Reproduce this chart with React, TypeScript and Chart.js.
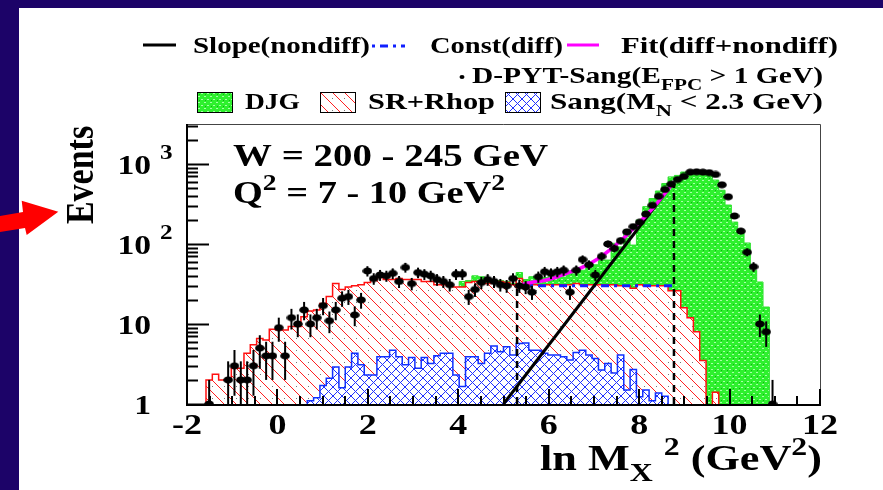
import { useEffect, useRef } from "react";
import { Chart, registerables } from "chart.js";
Chart.register(...registerables);

// ---- binning of ln Mx^2 ----
const BIN_LO = -2;
const BIN_W = 0.14;

// data: D-PYT-Sang (E_FPC > 1 GeV), events per bin
const dataCounts = [
  0, 0, 0, 1, 0, 0, 2, 3, 2, 2,
  3, 5, 4, 4, 9, 4, 12, 10, 15, 10,
  12, 17, 11, 15, 21, 22, 13, 20, 46, 37,
  41, 40, 43, 34, 51, 32, 44, 42, 40, 36,
  34, 31, 42, 42, 22, 27, 33, 36, 34, 31,
  30, 37, 30, 29, 25, 39, 45, 43, 45, 47,
  25, 47, 64, 55, 41, 70, 100, 88, 110, 142,
  165, 187, 237, 305, 395, 480, 560, 640, 700, 790,
  800, 790, 780, 740, 550, 389, 224, 145, 79, 52,
  10, 8, 1, 0, 0, 0, 0, 0, 0, 0,
];

// DJG (stack total, visible above SR+Rhop)
const djgTotal = [
  0, 0, 0, 0, 0, 0, 0, 0, 0, 0,
  0, 0, 0, 0, 0, 0, 0, 0, 0, 0,
  0, 0, 0, 0, 0, 0, 0, 0, 0, 0,
  0, 0, 0, 0, 0, 0, 0, 0, 0, 0,
  0, 0, 0, 0, 34, 35, 40, 39, 35, 35,
  35, 34, 32, 44, 36, 39, 38, 38, 39, 40,
  42, 46, 47, 47, 55, 55, 63, 63, 102, 92,
  150, 97, 200, 293, 370, 460, 570, 690, 720, 794,
  800, 800, 794, 780, 630, 470, 307, 188, 137, 103,
  47, 33.5, 16.3, 0, 0, 0, 0, 0, 0, 0,
];

// SR+Rhop
const srRhop = [
  5.6, 0, 0, 0, 2.0, 2.35, 2.0, 2.0, 2.8, 2.8,
  4.3, 5.5, 6.6, 6.3, 8.6, 8.4, 8.4, 9.3, 9.3, 12.3,
  14.5, 15, 18, 22, 32, 27, 29, 30, 31, 33,
  35, 38, 36, 36, 37, 36, 36, 36, 34, 34,
  31, 31, 30, 29, 29, 33, 34, 32, 32, 33,
  34, 33, 31, 37, 31, 31, 31, 31, 31, 31,
  31, 31, 32, 31, 31, 31, 31, 31, 31, 30,
  30, 28, 31, 30, 30, 30, 30, 26, 26, 16,
  12, 8, 3.5, 0, 1.4, 0, 0, 0, 0, 0,
  0, 0, 0, 0, 0, 0, 0, 0, 0, 0,
];

// Sang (M_N < 2.3 GeV)
const sang = [
  0, 0, 0, 0, 0, 0, 0, 0, 0, 0,
  0, 0, 0, 0, 0, 0, 0, 0, 0, 0,
  1.1, 1.2, 1.7, 2.1, 2.9, 1.6, 2.9, 4.3, 3.1, 2.3,
  2.3, 3.9, 3.9, 4.7, 3.9, 3.1, 3.8, 2.8, 3.8, 3.2,
  4.0, 4.3, 4.3, 2.3, 1.65, 3.9, 3.9, 3.2, 4.3, 5.3,
  4.5, 5.2, 4.1, 5.7, 5.8, 4.7, 4.7, 4.3, 4.1, 4.1,
  3.9, 3.55, 4.4, 4.7, 4.1, 3.7, 2.66, 3.2, 2.44, 4.1,
  1.5, 2.7, 1.23, 1.5, 1.1, 1.37, 1.25, 0, 0, 0,
  0, 0, 0, 0, 0, 0, 0, 0, 0, 0,
  0, 0, 0, 0, 0, 0, 0, 0, 0, 0,
];

// Slope (nondiff): straight line in log scale
const slopeX = [5.0, 8.77];
const slopeY = [1, 600];
// Const (diff)
const constX = [5.3, 8.77];
const constY = [30, 30];
// Fit (diff+nondiff)
const fitX = [5.3, 5.6, 5.9, 6.2, 6.5, 6.8, 7.1, 7.4, 7.7, 8.0, 8.3, 8.6, 8.77];
const fitY = [30, 33, 35, 39, 45, 53, 66, 89, 125, 185, 280, 450, 600];
// fit range markers (dashed verticals)
const cutX = [5.3, 8.77];
const cutTop = [30, 600];

const xTickValues = [-2, 0, 2, 4, 6, 8, 10, 12];
const xTickLabels = ["-2", "0", "2", "4", "6", "8", "10", "12"];
const yTickValues = [1, 10, 100, 1000];
const yTickLabels = [["1", ""], ["10", ""], ["10", "2"], ["10", "3"]];

const X_MIN = -2, X_MAX = 12, Y_MIN = 1, Y_MAX = 3162;

const FONT = '"Liberation Serif", "DejaVu Serif", serif';
const SX = 1.2;

type Part = { t: string; sub?: boolean; sup?: boolean };

function partSize(p: Part, size: number) {
  return p.sub || p.sup ? size * 0.72 : size;
}

function richWidth(ctx: CanvasRenderingContext2D, parts: Part[], size: number) {
  ctx.save();
  let w = 0;
  for (const p of parts) {
    ctx.font = `bold ${partSize(p, size)}px ${FONT}`;
    w += ctx.measureText(p.t).width;
  }
  ctx.restore();
  return w;
}

// draws text; if targetW is given, the horizontal stretch is chosen to span it
function drawRich(ctx: CanvasRenderingContext2D, x: number, y: number, parts: Part[], size: number, targetW?: number) {
  const sx = targetW ? targetW / richWidth(ctx, parts, size) : SX;
  ctx.save();
  ctx.translate(x, y);
  ctx.scale(sx, 1);
  ctx.fillStyle = "#000";
  ctx.textBaseline = "alphabetic";
  ctx.textAlign = "left";
  let cx = 0;
  for (const p of parts) {
    ctx.font = `bold ${partSize(p, size)}px ${FONT}`;
    const dy = p.sub ? size * 0.3 : p.sup ? -size * 0.42 : 0;
    ctx.fillText(p.t, cx, dy);
    cx += ctx.measureText(p.t).width;
  }
  ctx.restore();
}

function histPoints(vals: number[]) {
  const pts = vals.map((v, k) => ({ x: BIN_LO + k * BIN_W, y: v > 0 ? v : 1e-3 }));
  pts.push({ x: BIN_LO + vals.length * BIN_W, y: vals[vals.length - 1] > 0 ? vals[vals.length - 1] : 1e-3 });
  return pts;
}

function makeTile(w: number, h: number, draw: (g: CanvasRenderingContext2D) => void) {
  const c = document.createElement("canvas");
  c.width = w;
  c.height = h;
  const g = c.getContext("2d")!;
  draw(g);
  return c;
}

export default function App() {
  const ref = useRef<HTMLCanvasElement>(null);

  useEffect(() => {
    const canvas = ref.current!;
    const ctx = canvas.getContext("2d")!;

    const redTile = makeTile(12, 12, (g) => {
      g.fillStyle = "#fff";
      g.fillRect(0, 0, 12, 12);
      g.strokeStyle = "#ff2020";
      g.lineWidth = 1;
      g.beginPath();
      g.moveTo(-1, -1); g.lineTo(13, 13);
      g.moveTo(-13, -1); g.lineTo(1, 13);
      g.moveTo(11, -1); g.lineTo(25, 13);
      g.stroke();
      g.fillStyle = "#777";
      g.fillRect(8, 2, 1, 1);
    });
    const blueTile = makeTile(9, 9, (g) => {
      g.fillStyle = "#fff";
      g.fillRect(0, 0, 9, 9);
      g.strokeStyle = "#2030ff";
      g.lineWidth = 1;
      g.beginPath();
      g.moveTo(0, 0); g.lineTo(9, 9);
      g.moveTo(9, 0); g.lineTo(0, 9);
      g.stroke();
    });
    const greenTile = makeTile(6, 6, (g) => {
      g.fillStyle = "#2ef02e";
      g.fillRect(0, 0, 6, 6);
      g.fillStyle = "#a8ffa8";
      g.fillRect(0, 0, 2, 1);
      g.fillRect(3, 3, 2, 1);
      g.fillStyle = "#10b010";
      g.fillRect(1, 4, 1, 1);
    });
    const redPat = ctx.createPattern(redTile, "repeat")!;
    const bluePat = ctx.createPattern(blueTile, "repeat")!;
    const greenPat = ctx.createPattern(greenTile, "repeat")!;

    const dot = makeTile(10, 8, (g) => {
      g.fillStyle = "#000";
      g.beginPath();
      g.ellipse(5, 4, 4.8, 3.6, 0, 0, Math.PI * 2);
      g.fill();
    });

    const points = dataCounts
      .map((v, k) => ({ x: BIN_LO + (k + 0.5) * BIN_W, y: v }))
      .filter((p) => p.y > 0);

    const bgPlugin = {
      id: "bg",
      beforeDraw(chart: any) {
        const c = chart.ctx as CanvasRenderingContext2D;
        c.save();
        c.fillStyle = "#1c0368";
        c.fillRect(0, 0, chart.width, chart.height);
        c.fillStyle = "#fff";
        c.fillRect(19, 8, chart.width - 19, chart.height - 8);
        c.restore();
      },
    };

    const decoPlugin = {
      id: "deco",
      afterDatasetsDraw(chart: any) {
        const c = chart.ctx as CanvasRenderingContext2D;
        const xs = chart.scales.x;
        const ys = chart.scales.y;
        const a = chart.chartArea;
        c.save();
        // error bars
        c.beginPath();
        c.rect(a.left, a.top - 2, a.right - a.left, a.bottom - a.top + 2);
        c.clip();
        c.strokeStyle = "#000";
        c.lineWidth = 2;
        for (const p of points) {
          const e = Math.sqrt(p.y);
          const px = xs.getPixelForValue(p.x);
          const lo = p.y - e > 0 ? ys.getPixelForValue(p.y - e) : a.bottom;
          const hi = ys.getPixelForValue(p.y + e);
          c.beginPath();
          c.moveTo(px, Math.min(lo, a.bottom));
          c.lineTo(px, hi);
          c.stroke();
        }
        c.restore();

        c.save();
        // frame
        c.strokeStyle = "#444";
        c.lineWidth = 1;
        c.beginPath();
        c.moveTo(a.left, a.top + 0.5);
        c.lineTo(a.right + 0.5, a.top + 0.5);
        c.lineTo(a.right + 0.5, a.bottom);
        c.stroke();
        c.strokeStyle = "#000";
        c.lineWidth = 2;
        c.beginPath();
        c.moveTo(a.left, a.top);
        c.lineTo(a.left, a.bottom + 1);
        c.lineTo(a.right + 1, a.bottom + 1);
        c.stroke();
        // y ticks
        c.lineWidth = 2;
        for (let d = 0; d <= 3; d++) {
          for (let m = 1; m <= 9; m++) {
            const v = m * Math.pow(10, d);
            if (v > Y_MAX) continue;
            const py = Math.round(ys.getPixelForValue(v)) + 0.5;
            const len = m === 1 ? 22 : 11;
            c.beginPath();
            c.moveTo(a.left, py);
            c.lineTo(a.left + len, py);
            c.stroke();
          }
        }
        // x ticks
        for (let v = X_MIN; v <= X_MAX + 1e-9; v += 0.5) {
          const px = Math.round(xs.getPixelForValue(v));
          const isMajor = Math.abs(v / 2 - Math.round(v / 2)) < 1e-6;
          const len = isMajor ? 15 : 8;
          c.beginPath();
          c.moveTo(px, a.bottom);
          c.lineTo(px, a.bottom - len);
          c.stroke();
        }
        // tick labels
        xTickValues.forEach((v, i) => {
          const px = xs.getPixelForValue(v);
          const w = richWidth(c, [{ t: xTickLabels[i] }], 30) * SX;
          drawRich(c, px - w / 2, a.bottom + 30, [{ t: xTickLabels[i] }], 30);
        });
        yTickValues.forEach((v, i) => {
          const py = ys.getPixelForValue(v);
          const [base, exp] = yTickLabels[i];
          const w = richWidth(c, [{ t: base }], 28) * SX;
          drawRich(c, 151 - w, py + 10, [{ t: base }], 28);
          if (exp) drawRich(c, 160, py - 5, [{ t: exp }], 21);
        });
        c.restore();
      },
      afterDraw(chart: any) {
        const c = chart.ctx as CanvasRenderingContext2D;
        c.save();
        // legend row 1
        c.lineWidth = 3;
        c.strokeStyle = "#000";
        c.beginPath(); c.moveTo(143, 45); c.lineTo(176, 45); c.stroke();
        drawRich(c, 193, 53, [{ t: "Slope(nondiff)" }], 24, 177);
        c.strokeStyle = "#1020ff";
        c.lineWidth = 3;
        c.setLineDash([3, 5, 8, 5]);
        c.beginPath(); c.moveTo(372, 46); c.lineTo(405, 46); c.stroke();
        c.setLineDash([]);
        drawRich(c, 430, 53, [{ t: "Const(diff)" }], 24, 133);
        c.strokeStyle = "#ff00ff";
        c.beginPath(); c.moveTo(567, 45); c.lineTo(599, 45); c.stroke();
        drawRich(c, 621, 53, [{ t: "Fit(diff+nondiff)" }], 24, 217);
        // legend row 2
        c.fillStyle = "#000";
        c.beginPath(); c.ellipse(462, 77, 2.5, 2, 0, 0, Math.PI * 2); c.fill();
        drawRich(c, 472, 83, [{ t: "D-PYT-Sang(E" }, { t: "FPC", sub: true }, { t: " > 1 GeV)" }], 24, 351);
        // legend row 3
        const box = (x: number, pat: CanvasPattern) => {
          c.fillStyle = pat;
          c.fillRect(x, 92, 35, 20);
          c.strokeStyle = "#000";
          c.lineWidth = 1;
          c.strokeRect(x + 0.5, 92.5, 35, 20);
        };
        box(197, greenPat);
        drawRich(c, 245, 109, [{ t: "DJG" }], 24, 55);
        box(320, redPat);
        drawRich(c, 368, 109, [{ t: "SR+Rhop" }], 24, 127);
        box(505, bluePat);
        drawRich(c, 550, 109, [{ t: "Sang(M" }, { t: "N", sub: true }, { t: " < 2.3 GeV)" }], 24, 273);
        // in-plot text
        drawRich(c, 233, 166, [{ t: "W = 200 - 245 GeV" }], 32, 315);
        drawRich(c, 233, 203, [{ t: "Q" }, { t: "2", sup: true }, { t: " = 7 - 10 GeV" }, { t: "2", sup: true }], 32, 272);
        // x title
        drawRich(c, 540, 470, [{ t: "ln M" }, { t: "X", sub: true }, { t: " " }, { t: "2", sup: true }, { t: " (GeV" }, { t: "2", sup: true }, { t: ")" }], 36, 282);
        // y title
        c.save();
        c.translate(93, 175);
        c.scale(SX, 1);
        c.rotate(-Math.PI / 2);
        c.font = `bold 34px ${FONT}`;
        c.textAlign = "center";
        c.textBaseline = "alphabetic";
        c.fillStyle = "#000";
        c.fillText("Events", 0, 0);
        c.restore();
        // arrow
        c.fillStyle = "#ff0000";
        c.beginPath();
        c.moveTo(0, 216);
        c.lineTo(23, 212);
        c.lineTo(21.7, 200.7);
        c.lineTo(58.3, 211.7);
        c.lineTo(26.7, 235);
        c.lineTo(25, 228);
        c.lineTo(0, 232);
        c.closePath();
        c.fill();
        c.restore();
      },
    };

    const chart = new Chart(canvas, {
      type: "line",
      data: {
        datasets: [
          {
            label: "D-PYT-Sang",
            data: points,
            showLine: false,
            pointStyle: dot as any,
            pointRadius: 4,
            order: 0,
          },
          {
            label: "Fit(diff+nondiff)",
            data: fitX.map((x, i) => ({ x, y: fitY[i] })),
            borderColor: "#ff00ff",
            borderWidth: 3.5,
            pointRadius: 0,
            cubicInterpolationMode: "monotone",
            fill: false,
            order: 1,
          },
          {
            label: "Slope(nondiff)",
            data: slopeX.map((x, i) => ({ x, y: slopeY[i] })),
            borderColor: "#000",
            borderWidth: 3,
            pointRadius: 0,
            fill: false,
            order: 2,
          },
          {
            label: "Const(diff)",
            data: constX.map((x, i) => ({ x, y: constY[i] })),
            borderColor: "#1020ff",
            borderWidth: 3,
            borderDash: [8, 5, 3, 5],
            pointRadius: 0,
            fill: false,
            order: 3,
          },
          {
            label: "cut-low",
            data: [{ x: cutX[0], y: Y_MIN }, { x: cutX[0], y: cutTop[0] }],
            borderColor: "#000",
            borderWidth: 2.5,
            borderDash: [7, 5],
            pointRadius: 0,
            fill: false,
            order: 4,
          },
          {
            label: "cut-high",
            data: [{ x: cutX[1], y: Y_MIN }, { x: cutX[1], y: cutTop[1] }],
            borderColor: "#000",
            borderWidth: 2.5,
            borderDash: [7, 5],
            pointRadius: 0,
            fill: false,
            order: 4,
          },
          {
            label: "Sang",
            data: histPoints(sang),
            stepped: "after",
            borderColor: "#1030ff",
            borderWidth: 1.5,
            backgroundColor: bluePat,
            fill: "start",
            pointRadius: 0,
            order: 5,
          },
          {
            label: "SR+Rhop",
            data: histPoints(srRhop),
            stepped: "after",
            borderColor: "#ff1010",
            borderWidth: 1.5,
            backgroundColor: redPat,
            fill: "start",
            pointRadius: 0,
            order: 6,
          },
          {
            label: "DJG",
            data: histPoints(djgTotal),
            stepped: "after",
            borderColor: "#30e030",
            borderWidth: 1,
            backgroundColor: greenPat,
            fill: "start",
            pointRadius: 0,
            order: 7,
          },
        ] as any,
      },
      options: {
        responsive: false,
        animation: false,
        events: [],
        layout: { padding: { left: 187, top: 124, right: 63, bottom: 86 } },
        scales: {
          x: { type: "linear", min: X_MIN, max: X_MAX, display: false },
          y: { type: "logarithmic", min: Y_MIN, max: Y_MAX, display: false },
        },
        plugins: { legend: { display: false }, tooltip: { enabled: false } },
      },
      plugins: [bgPlugin, decoPlugin],
    });
    return () => chart.destroy();
  }, []);

  return (
    <div style={{ position: "fixed", left: 0, top: 0, width: 883, height: 490 }}>
      <canvas ref={ref} width={883} height={490} style={{ display: "block", width: 883, height: 490 }} />
    </div>
  );
}
